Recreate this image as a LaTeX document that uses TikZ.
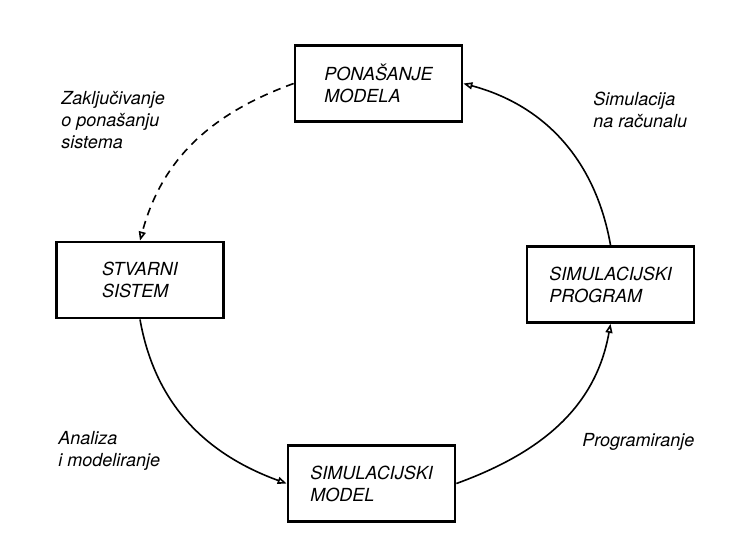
\documentclass[tikz,border=0pt]{standalone}
\usepackage{fontspec}
\setmainfont{TeX Gyre Heros}
\usetikzlibrary{arrows.meta}

\begin{document}
\begin{tikzpicture}[x=0.5pt, y=-0.5pt,
    box/.style={draw, line width=1.4pt, minimum width=83.5pt, minimum height=38pt,
        align=left, font=\itshape\fontsize{9}{11}\selectfont, inner sep=0pt},
    note/.style={align=left, font=\itshape\fontsize{9}{11}\selectfont, inner sep=0pt, anchor=west},
    flow/.style={line width=0.8pt, -{Triangle[open, length=4.5pt, width=3.5pt]}}]

\useasboundingbox (0,0) rectangle (738,547);

% Boxes
\node[box] (pona) at (378.5,83.5) {PONAŠANJE\\MODELA};
\node[box] (sist) at (140,280) {STVARNI\\SISTEM};
\node[box] (prog) at (610.5,284.5) {SIMULACIJSKI\\PROGRAM};
\node[box] (model) at (371.5,483.5) {SIMULACIJSKI\\MODEL};

% Connectors
\draw[flow, dashed, dash pattern=on 4pt off 3pt] (pona.west) to[out=200, in=75] (sist.north);
\draw[flow] (sist.south) to[out=-80, in=160] (model.west);
\draw[flow] (model.east) to[out=20, in=-100] (prog.south);
\draw[flow] (prog.north) to[out=100, in=-15] (pona.east);

% Labels
\node[note] (zakl) at (61,120.5) {Zaključivanje\\o ponašanju\\sistema};
\node[note] (simu) at (593,110) {Simulacija\\na računalu};
\node[note] (anal) at (58,451) {Analiza\\i modeliranje};
\node[note] (prgm) at (582,442) {Programiranje};

\end{tikzpicture}
\end{document}
